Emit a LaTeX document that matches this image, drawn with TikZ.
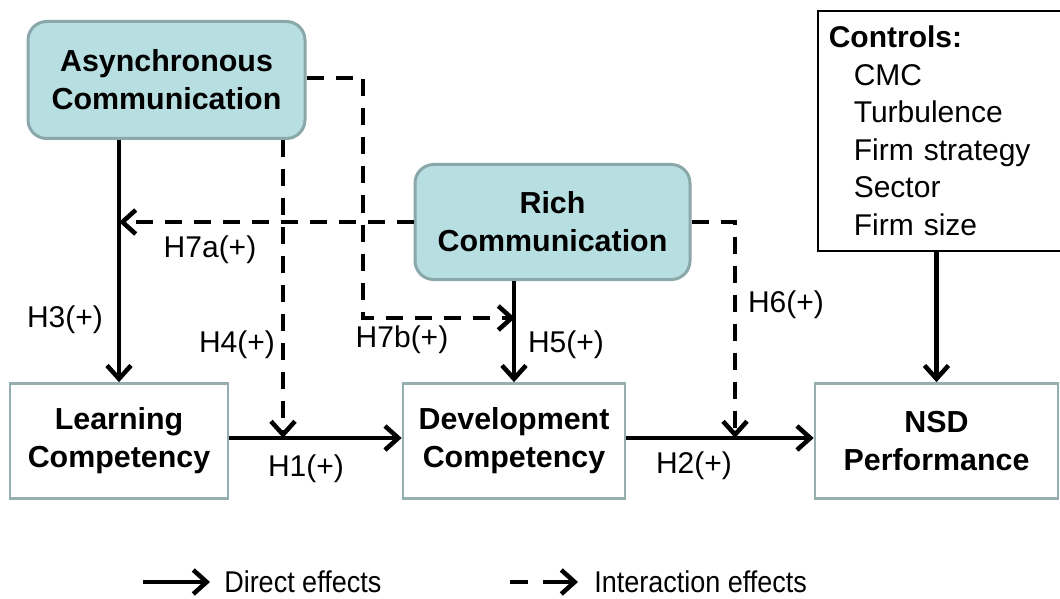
\documentclass[tikz,border=0pt]{standalone}
\usepackage{fontspec}
\setmainfont{Liberation Sans}
\usepackage{graphicx}
\usetikzlibrary{arrows.meta}
\newdimen\pxu \pxu=0.75pt
\definecolor{boxfill}{HTML}{B7DEE1}
\definecolor{boxline}{HTML}{8AA7A9}
\definecolor{rectline}{HTML}{95AEB0}
\tikzset{
  bigfont/.style={font=\bfseries\fontsize{22.8}{28.5}\selectfont},
  comm/.style={draw=boxline, fill=boxfill, line width=2.25pt, rounded corners=14pt,
    align=center, bigfont, inner sep=0pt},
  comp/.style={draw=rectline, fill=white, line width=2pt, minimum height=115\pxu,
    align=center, bigfont, inner sep=0pt},
  direct/.style={line width=3.4pt, -{Straight Barb[length=10pt,width=18pt]}},
  inter/.style={direct, dash pattern=on 12.75pt off 9pt},
  lbl/.style={font=\fontsize{22.5}{27}\selectfont, inner sep=0pt},
}
\begin{document}
\begin{tikzpicture}[x=0.75pt, y=-0.75pt]
\useasboundingbox (0,0) rectangle (1060,599);

% nodes
\node[comm, minimum width=277\pxu, minimum height=117\pxu] (async) at (166.5,80) {Asynchronous\\Communication};
\node[comm, minimum width=275\pxu, minimum height=115\pxu] (rich) at (552.5,222) {Rich\\Communication};
\node[comp, minimum width=218\pxu] (learn) at (119,441) {Learning\\Competency};
\node[comp, minimum width=222\pxu] (dev) at (514,441) {Development\\Competency};
\node[comp, minimum width=243\pxu] (nsd) at (936.5,441) {NSD\\Performance};
\node[draw=black, line width=1.2pt, anchor=north west, minimum width=250\pxu, minimum height=240\pxu,
      inner sep=0pt, align=left, font=\fontsize{22.5}{28.1}\selectfont, text width=240\pxu] (ctrl) at (817,10)
  {\hspace*{6\pxu}\textbf{Controls:}\\
   \hspace*{31\pxu}CMC\\
   \hspace*{31\pxu}Turbulence\\
   \hspace*{31\pxu}Firm strategy\\
   \hspace*{31\pxu}Sector\\
   \hspace*{31\pxu}Firm size};

% helper coordinates on the target paths
\coordinate (h1m) at (283,438);
\coordinate (h2m) at (735,438);
\coordinate (h5m) at (515,318);
\coordinate (k1) at (363,0);

% direct effects
\draw[direct] (async.south -| learn.north) -- (learn.north);
\draw[direct] (rich.south -| dev.north) -- (dev.north);
\draw[direct] (learn.east |- h1m) -- (dev.west |- h1m);
\draw[direct] (dev.east |- h2m) -- (nsd.west |- h2m);
\draw[direct] (ctrl.south -| nsd.north) -- (nsd.north);

% interaction effects
\draw[inter] (async.south -| h1m) -- (h1m);
\draw[inter] (async.east) ++(0,-2) -| (k1 |- h5m) -- (h5m);
\draw[inter] (rich.west) -- (rich.west -| learn.north);
\draw[inter] (rich.east) -| (h2m);

% labels
\node[lbl] (l3) at (65,320) {H3(+)};
\node[lbl] (l7a) at (210,250) {H7a(+)};
\node[lbl] (l4) at (237,345) {H4(+)};
\node[lbl] (l7b) at (402,340) {H7b(+)};
\node[lbl] (l5) at (566,345) {H5(+)};
\node[lbl] (l6) at (786,305) {H6(+)};
\node[lbl] (l1) at (306,469) {H1(+)};
\node[lbl] (l2) at (694,466) {H2(+)};

% legend
\coordinate (ld1a) at (143,582);
\coordinate (ld1b) at (210,582);
\coordinate (ld2a) at (510,582);
\coordinate (ld2b) at (578,582);
\draw[direct] (ld1a) -- (ld1b);
\draw[direct, dash pattern=on 13.5pt off 11pt on 40pt] (ld2a) -- (ld2b);
\node[lbl, anchor=west] (leg1) at (224,582) {\scalebox{0.9}[1]{Direct effects}};
\node[lbl, anchor=west] (leg2) at (594,582) {\scalebox{0.9}[1]{Interaction effects}};
\end{tikzpicture}
\end{document}
